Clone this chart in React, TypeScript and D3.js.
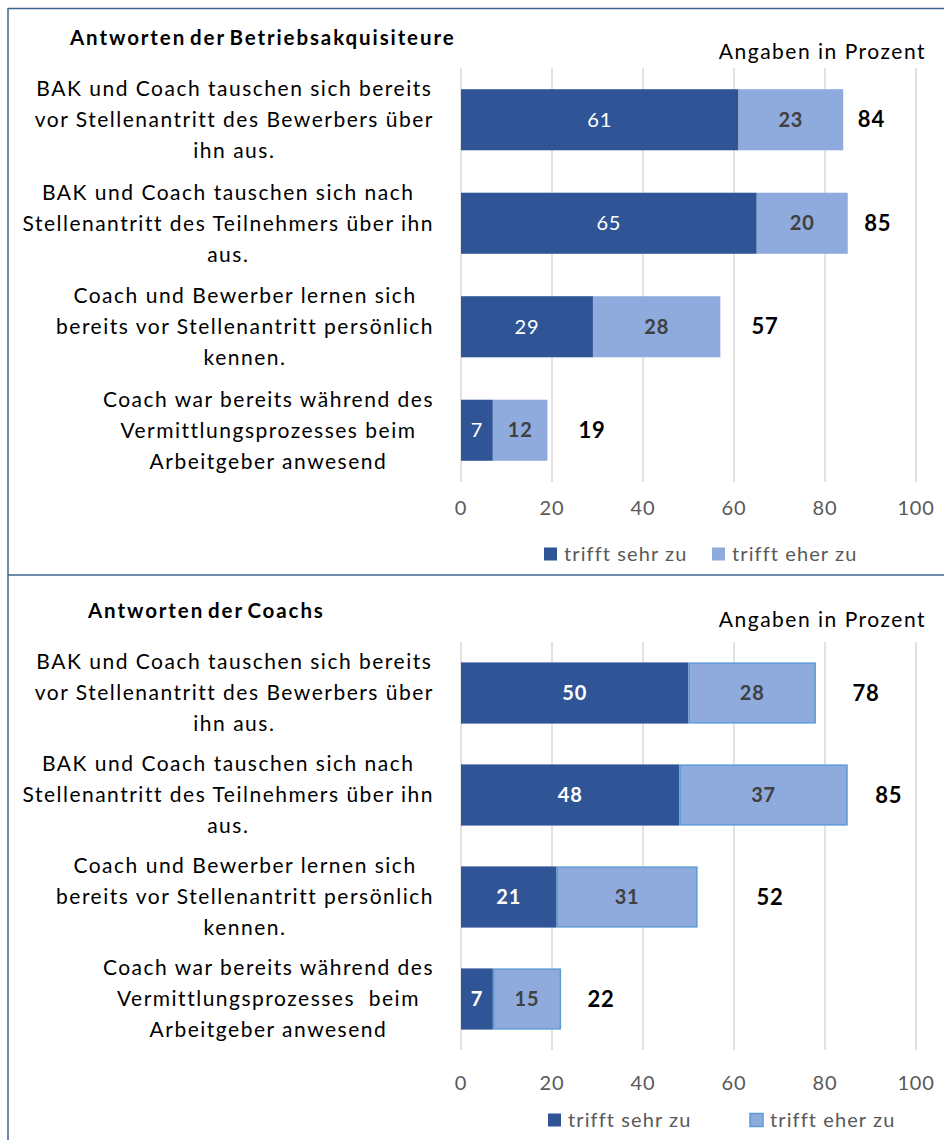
import React, { useEffect, useRef } from "react";
import * as d3 from "d3";

// ---------- data ----------
const categoryLines: string[][] = [
  ["BAK und Coach tauschen sich bereits", "vor Stellenantritt des Bewerbers über", "ihn aus."],
  ["BAK und Coach tauschen sich nach", "Stellenantritt des Teilnehmers über ihn", "aus."],
  ["Coach und Bewerber lernen sich", "bereits vor Stellenantritt persönlich", "kennen."],
  ["Coach war bereits während des", "Vermittlungsprozesses beim", "Arbeitgeber anwesend"],
];
const categoryLinesCoach: string[][] = [
  ["BAK und Coach tauschen sich bereits", "vor Stellenantritt des Bewerbers über", "ihn aus."],
  ["BAK und Coach tauschen sich nach", "Stellenantritt des Teilnehmers über ihn", "aus."],
  ["Coach und Bewerber lernen sich", "bereits vor Stellenantritt persönlich", "kennen."],
  ["Coach war bereits während des", "Vermittlungsprozesses  beim", "Arbeitgeber anwesend"],
];
const seriesNames = ["trifft sehr zu", "trifft eher zu"];
const bakSehr = [61, 65, 29, 7];
const bakEher = [23, 20, 28, 12];
const bakTotal = [84, 85, 57, 19];
const bakTotalLabelAt = [90.2, 91.6, 66.8, 28.8];
const coachSehr = [50, 48, 21, 7];
const coachEher = [28, 37, 31, 15];
const coachTotal = [78, 85, 52, 22];
const coachTotalLabelAt = [89.0, 94.0, 67.9, 30.8];
const xTicks = [0, 20, 40, 60, 80, 100];
const panelTitles = ["Antworten der Betriebsakquisiteure", "Antworten der Coachs"];
const unitNote = "Angaben in Prozent";

// ---------- style ----------
const FONT = "Lato, 'Open Sans', sans-serif";
const DARK = "#2f5597";
const LIGHT = "#8faadc";
const LIGHT_STROKE = "#5b9bd5";
const GRID = "#d9d9d9";
const FRAME = "#3e6491";

export default function App() {
  const ref = useRef<SVGSVGElement | null>(null);

  useEffect(() => {
    const svg = d3.select(ref.current);
    svg.selectAll("*").remove();

    const x = d3.scaleLinear().domain([0, 100]).range([461, 916]);

    // frame
    svg.append("line").attr("x1", 8).attr("x2", 944).attr("y1", 8.5).attr("y2", 8.5)
      .attr("stroke", FRAME).attr("stroke-width", 1.5);
    svg.append("line").attr("x1", 8).attr("x2", 8).attr("y1", 8).attr("y2", 1140)
      .attr("stroke", FRAME).attr("stroke-width", 1.5);
    svg.append("line").attr("x1", 8).attr("x2", 944).attr("y1", 575).attr("y2", 575)
      .attr("stroke", FRAME).attr("stroke-width", 1.5);

    const panels = [
      {
        title: panelTitles[0], titleX: 70, titleY: 38, noteY: 52,
        yRange: [68, 482] as [number, number], pad: 0.41, tickY: 508, legendY: 554,
        legendX: [544, 712], lines: categoryLines,
        sehr: bakSehr, eher: bakEher, total: bakTotal, totalAt: bakTotalLabelAt,
        boldFirst: false, stroke: false,
      },
      {
        title: panelTitles[1], titleX: 88, titleY: 611, noteY: 620,
        yRange: [642, 1050] as [number, number], pad: 0.4, tickY: 1083, legendY: 1120,
        legendX: [548, 750], lines: categoryLinesCoach,
        sehr: coachSehr, eher: coachEher, total: coachTotal, totalAt: coachTotalLabelAt,
        boldFirst: true, stroke: true,
      },
    ];

    panels.forEach((p) => {
      const g = svg.append("g");
      const idx = d3.range(p.sehr.length);
      const y = d3.scaleBand<number>().domain(idx).range(p.yRange).paddingInner(p.pad).paddingOuter(p.pad / 2);

      // title
      g.append("text").attr("x", p.titleX).attr("y", p.titleY).attr("dy", "0.35em")
        .attr("font-family", FONT).attr("font-weight", 700).attr("font-size", 20.5)
        .attr("letter-spacing", 1.9).style("word-spacing", "-3px")
        .attr("fill", "#000").text(p.title);
      g.append("text").attr("x", 926).attr("y", p.noteY).attr("dy", "0.35em")
        .attr("text-anchor", "end").attr("font-family", FONT).attr("font-size", 21)
        .attr("letter-spacing", 1.5)
        .attr("fill", "#000").text(unitNote);

      // grid
      g.selectAll("line.grid").data(xTicks).join("line").attr("class", "grid")
        .attr("x1", (d) => x(d)).attr("x2", (d) => x(d))
        .attr("y1", p.yRange[0]).attr("y2", p.yRange[1])
        .attr("stroke", GRID).attr("stroke-width", 1.5);

      // tick labels
      g.selectAll("text.tick").data(xTicks).join("text").attr("class", "tick")
        .attr("x", (d) => x(d)).attr("y", p.tickY).attr("dy", "0.35em")
        .attr("text-anchor", "middle").attr("font-family", FONT).attr("font-size", 20)
        .attr("letter-spacing", 0.8)
        .attr("fill", "#595959").text((d) => d);

      const bw = y.bandwidth();
      // bars
      g.selectAll("rect.sehr").data(idx).join("rect").attr("class", "sehr")
        .attr("x", x(0)).attr("y", (i) => y(i)!)
        .attr("width", (i) => x(p.sehr[i]) - x(0)).attr("height", bw)
        .attr("fill", DARK);
      g.selectAll("rect.eher").data(idx).join("rect").attr("class", "eher")
        .attr("x", (i) => x(p.sehr[i]) + (p.stroke ? 0.75 : 0)).attr("y", (i) => y(i)! + (p.stroke ? 0.75 : 0))
        .attr("width", (i) => x(p.sehr[i] + p.eher[i]) - x(p.sehr[i]) - (p.stroke ? 1.5 : 0))
        .attr("height", bw - (p.stroke ? 1.5 : 0))
        .attr("fill", LIGHT)
        .attr("stroke", p.stroke ? LIGHT_STROKE : "none").attr("stroke-width", 1.5);

      // value labels
      g.selectAll("text.vs").data(idx).join("text").attr("class", "vs")
        .attr("x", (i) => x(p.sehr[i] / 2)).attr("y", (i) => y(i)! + bw / 2).attr("dy", "0.35em")
        .attr("text-anchor", "middle").attr("font-family", FONT).attr("font-size", 20)
        .attr("letter-spacing", 0.8)
        .attr("font-weight", p.boldFirst ? 700 : 400).attr("fill", "#fff")
        .text((i) => p.sehr[i]);
      g.selectAll("text.ve").data(idx).join("text").attr("class", "ve")
        .attr("x", (i) => x(p.sehr[i] + p.eher[i] / 2)).attr("y", (i) => y(i)! + bw / 2).attr("dy", "0.35em")
        .attr("text-anchor", "middle").attr("font-family", FONT).attr("font-size", 20)
        .attr("letter-spacing", 0.8)
        .attr("font-weight", 700).attr("fill", "#404040")
        .text((i) => p.eher[i]);
      g.selectAll("text.vt").data(idx).join("text").attr("class", "vt")
        .attr("x", (i) => x(p.totalAt[i])).attr("y", (i) => y(i)! + bw / 2).attr("dy", "0.35em")
        .attr("text-anchor", "middle").attr("font-family", FONT).attr("font-size", 22)
        .attr("letter-spacing", 0.8)
        .attr("font-weight", 700).attr("fill", "#000")
        .text((i) => p.total[i]);

      // category labels: block right-aligned at 434, lines centered within block
      const lineH = 31;
      idx.forEach((i) => {
        const lines = p.lines[i];
        const cy = y(i)! + bw / 2;
        const texts = lines.map((s, k) =>
          g.append("text").attr("y", cy + (k - (lines.length - 1) / 2) * lineH).attr("dy", "0.35em")
            .attr("text-anchor", "middle").attr("font-family", FONT).attr("font-size", 21)
            .attr("letter-spacing", 1.5)
            .attr("fill", "#000").style("white-space", "pre").text(s)
        );
        const w = Math.max(...texts.map((t) => (t.node() as SVGTextElement).getComputedTextLength()));
        texts.forEach((t) => t.attr("x", 434 - w / 2));
      });

      // legend
      seriesNames.forEach((name, k) => {
        const lx = p.legendX[k];
        g.append("rect").attr("x", lx).attr("y", p.legendY - 6.5).attr("width", 13).attr("height", 13)
          .attr("fill", k === 0 ? DARK : LIGHT)
          .attr("stroke", p.stroke && k === 1 ? LIGHT_STROKE : "none").attr("stroke-width", 1.5);
        g.append("text").attr("x", lx + 20).attr("y", p.legendY).attr("dy", "0.35em")
          .attr("font-family", FONT).attr("font-size", 20).attr("letter-spacing", 1.1)
          .attr("fill", "#595959").text(name);
      });
    });
  }, []);

  return (
    <svg
      ref={ref}
      width={944}
      height={1140}
      style={{ position: "absolute", left: 0, top: 0, background: "#fff" }}
    />
  );
}
